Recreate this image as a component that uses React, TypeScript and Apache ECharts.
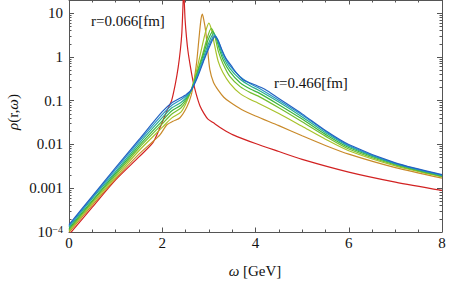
import React, { useEffect, useRef } from "react";
import * as echarts from "echarts";

const FONT = "Liberation Serif";
const FS = 15;

// r values of the curves [fm]
const rValues = ["0.066", "0.123", "0.180", "0.237", "0.294", "0.351", "0.409", "0.466"];
const colors = ["#d22222", "#c98a2a", "#a8c22a", "#72be30", "#3db53e", "#2aae8e", "#2a94c8", "#2262c2"];

// r = 0.066 fm
const omega0 = [0, 0.5, 1, 1.5, 1.8, 1.95, 2.05, 2.13, 2.2, 2.28, 2.34, 2.39, 2.42, 2.44, 2.46, 2.475, 2.49, 2.52, 2.55, 2.6, 2.66, 2.73, 2.81, 2.9, 2.98, 3.09, 3.3, 3.52, 4.0, 4.5, 5.0, 6.0, 7.0, 8.0];
const rho0 = [8.7e-5, 3.7e-4, 1.55e-3, 5.2e-3, 0.0110, 0.0240, 0.0437, 0.069, 0.1, 0.24, 0.56, 1.5, 3.5, 11, 35, 16, 7.1, 2.8, 1.4, 0.63, 0.28, 0.14, 0.076, 0.05, 0.038, 0.0316, 0.0224, 0.0166, 0.0105, 0.0069, 0.00457, 0.00234, 0.00138, 0.00089];

// r = 0.123 fm
const omega1 = [0, 0.5, 1, 1.5, 1.8, 1.95, 2.1, 2.23, 2.38, 2.53, 2.62, 2.68, 2.74, 2.79, 2.83, 2.86, 2.89, 2.93, 2.97, 3.02, 3.1, 3.2, 3.32, 3.45, 3.7, 4.0, 4.5, 5.0, 5.5, 6.0, 7.0, 8.0];
const rho1 = [9.8e-5, 4.1e-4, 1.66e-3, 6.0e-3, 0.0117, 0.0166, 0.0282, 0.0339, 0.0407, 0.0724, 0.132, 0.28, 0.79, 2.8, 7.1, 9.5, 7.1, 4.0, 1.6, 0.52, 0.26, 0.174, 0.12, 0.093, 0.063, 0.0447, 0.0269, 0.0158, 0.0095, 0.006, 0.00295, 0.0017];

// r = 0.180 fm
const omega2 = [0, 0.5, 1, 1.5, 2.0, 2.2, 2.4, 2.5, 2.62, 2.75, 2.85, 2.93, 3.0, 3.06, 3.12, 3.2, 3.3, 3.45, 3.67, 3.9, 4.05, 4.5, 5.0, 5.5, 6.0, 7.0, 8.0];
const rho2 = [1.05e-4, 4.5e-4, 1.82e-3, 7.2e-3, 0.0245, 0.04, 0.055, 0.083, 0.174, 0.56, 1.66, 3.8, 5.9, 4.0, 1.9, 0.79, 0.44, 0.25, 0.145, 0.105, 0.089, 0.051, 0.026, 0.0132, 0.0072, 0.00324, 0.00182];

// r = 0.237 fm
const omega3 = [0, 0.5, 1, 1.5, 2.0, 2.2, 2.4, 2.5, 2.62, 2.75, 2.85, 2.95, 3.05, 3.12, 3.2, 3.3, 3.45, 3.67, 3.9, 4.05, 4.5, 5.0, 5.5, 6.0, 7.0, 8.0];
const rho3 = [1.12e-4, 4.9e-4, 2.0e-3, 8.3e-3, 0.0295, 0.049, 0.068, 0.095, 0.17, 0.46, 1.0, 2.4, 4.5, 3.2, 1.38, 0.71, 0.36, 0.21, 0.151, 0.129, 0.069, 0.033, 0.0155, 0.0079, 0.0034, 0.00186];

// r = 0.294 fm
const omega4 = [0, 0.5, 1, 1.5, 2.0, 2.2, 2.4, 2.5, 2.62, 2.75, 2.88, 2.98, 3.08, 3.15, 3.22, 3.3, 3.45, 3.67, 3.9, 4.05, 4.5, 5.0, 5.5, 6.0, 7.0, 8.0];
const rho4 = [1.2e-4, 5.2e-4, 2.2e-3, 9.3e-3, 0.0347, 0.058, 0.079, 0.105, 0.17, 0.42, 1.12, 2.4, 3.8, 2.8, 1.58, 0.89, 0.46, 0.257, 0.182, 0.155, 0.081, 0.038, 0.017, 0.0085, 0.00355, 0.0019];

// r = 0.351 fm
const omega5 = [0, 0.5, 1, 1.5, 2.0, 2.2, 2.4, 2.5, 2.62, 2.75, 2.88, 2.99, 3.1, 3.17, 3.24, 3.3, 3.45, 3.67, 3.9, 4.05, 4.5, 5.0, 5.5, 6.0, 7.0, 8.0];
const rho5 = [1.29e-4, 5.8e-4, 2.4e-3, 0.0105, 0.041, 0.068, 0.091, 0.115, 0.17, 0.38, 0.95, 2.0, 3.4, 2.6, 1.58, 1.05, 0.55, 0.31, 0.214, 0.178, 0.093, 0.0427, 0.0186, 0.0091, 0.00363, 0.00195];

// r = 0.409 fm
const omega6 = [0, 0.5, 1, 1.5, 2.0, 2.2, 2.4, 2.5, 2.62, 2.75, 2.9, 3.01, 3.12, 3.19, 3.26, 3.33, 3.45, 3.67, 3.9, 4.05, 4.5, 5.0, 5.5, 6.0, 7.0, 8.0];
const rho6 = [1.38e-4, 6.2e-4, 2.7e-3, 0.0117, 0.048, 0.078, 0.105, 0.126, 0.174, 0.355, 0.95, 1.9, 3.1, 2.5, 1.58, 1.05, 0.63, 0.355, 0.24, 0.2, 0.102, 0.047, 0.02, 0.0095, 0.0037, 0.002];

// r = 0.466 fm
const omega7 = [0, 0.5, 1, 1.5, 2.0, 2.2, 2.4, 2.5, 2.62, 2.75, 2.9, 3.02, 3.13, 3.2, 3.28, 3.36, 3.48, 3.6, 3.73, 3.85, 4.0, 4.2, 4.5, 5.0, 5.5, 6.0, 7.0, 8.0];
const rho7 = [1.48e-4, 6.6e-4, 2.95e-3, 0.0129, 0.056, 0.089, 0.117, 0.135, 0.174, 0.33, 0.87, 1.78, 2.9, 2.34, 1.45, 0.95, 0.63, 0.42, 0.3, 0.263, 0.229, 0.182, 0.112, 0.05, 0.0209, 0.01, 0.0038, 0.00204];

const omegas = [omega0, omega1, omega2, omega3, omega4, omega5, omega6, omega7];
const rhos = [rho0, rho1, rho2, rho3, rho4, rho5, rho6, rho7];

const xMin = 0;
const xMax = 8;
const xInterval = 2;
const yMin = 1e-4;
const yMax = 20;
const yMajorTicks = [1e-4, 1e-3, 1e-2, 0.1, 1, 10];
const yTickLabels = ["{n|10}{e|−4}", "0.001", "0.01", "0.1", "1", "10"];
const yMinorMultipliers = [2, 3, 4, 5, 6, 7, 8, 9];

const annotations = [
  { text: "r=0.066[fm]", x: 91, y: 21 },
  { text: "r=0.466[fm]", x: 274, y: 83 },
];

export default function App() {
  const ref = useRef<HTMLDivElement>(null);
  useEffect(() => {
    if (!ref.current) return;
    const chart = echarts.init(ref.current, undefined, { renderer: "svg" });
    const yMinor: number[] = [];
    yMajorTicks.forEach((d) => {
      yMinorMultipliers.forEach((m) => {
        const v = d * m;
        if (v < yMax) yMinor.push(v);
      });
    });
    const axisColor = "#555";
    const labelFmt = (v: number) => {
      for (let i = 0; i < yMajorTicks.length; i++) {
        if (Math.abs(Math.log10(v) - Math.log10(yMajorTicks[i])) < 1e-6) return yTickLabels[i];
      }
      return "";
    };
    const baseY = (position: "left" | "right", major: boolean, labels: boolean) => ({
      type: "log" as const,
      logBase: 10,
      min: yMin,
      max: yMax,
      position,
      splitLine: { show: false },
      axisLine: { show: major, lineStyle: { color: axisColor, width: 1 } },
      axisTick: {
        show: true,
        inside: true,
        length: major ? 5 : 2.5,
        customValues: major ? yMajorTicks : yMinor,
        lineStyle: { color: axisColor, width: 1 },
      },
      axisLabel: labels
        ? {
            show: true,
            customValues: yMajorTicks,
            formatter: labelFmt,
            margin: 6,
            color: "#111",
            fontFamily: FONT,
            fontSize: FS,
            rich: {
              n: { fontFamily: FONT, fontSize: FS, color: "#111" },
              e: { fontFamily: FONT, fontSize: 10, color: "#111", verticalAlign: "top", padding: [0, 0, 6, 0] },
            },
          }
        : { show: false },
    });
    const baseX = (position: "bottom" | "top", labels: boolean) => ({
      type: "value" as const,
      min: xMin,
      max: xMax,
      interval: xInterval,
      position,
      splitLine: { show: false },
      axisLine: { show: true, lineStyle: { color: axisColor, width: 1 } },
      axisTick: { show: true, inside: true, length: 4.5, lineStyle: { color: axisColor, width: 1 } },
      minorTick: { show: true, splitNumber: 4, length: 2.5, lineStyle: { color: axisColor, width: 1 } },
      axisLabel: labels
        ? { show: true, margin: 3, color: "#111", fontFamily: FONT, fontSize: FS }
        : { show: false },
    });

    const series = omegas.map((om, i) => ({
      type: "line" as const,
      name: "r=" + rValues[i] + "[fm]",
      xAxisIndex: 0,
      yAxisIndex: 0,
      data: om.map((w, j) => [w, rhos[i][j]]),
      showSymbol: false,
      symbol: "none",
      smooth: 0.25,
      clip: true,
      lineStyle: { color: colors[i], width: 1.2 },
      z: 2 + i,
    }));

    chart.setOption({
      animation: false,
      backgroundColor: "#fff",
      textStyle: { fontFamily: FONT },
      grid: { left: 69, right: 9, top: 0, bottom: 49, containLabel: false },
      xAxis: [baseX("bottom", true), baseX("top", false)],
      yAxis: [
        baseY("left", true, true),
        baseY("left", false, false),
        baseY("right", true, false),
        baseY("right", false, false),
      ],
      series,
      graphic: [
        ...annotations.map((a) => ({
          type: "text" as const,
          x: a.x,
          y: a.y,
          style: { text: a.text, font: `${FS}px ${FONT}`, fill: "#111", align: "left", verticalAlign: "middle" },
        })),
        {
          type: "text",
          x: 255,
          y: 271,
          style: {
            text: "{i|ω} [GeV]",
            font: `${FS}px ${FONT}`,
            fill: "#111",
            align: "center",
            verticalAlign: "middle",
            rich: { i: { fontFamily: FONT, fontSize: FS, fontStyle: "italic", fill: "#111" } },
          },
        },
        {
          type: "text",
          x: 13,
          y: 112,
          rotation: Math.PI / 2,
          style: {
            text: "{i|ρ}(r,{i|ω})",
            font: `${FS}px ${FONT}`,
            fill: "#111",
            align: "center",
            verticalAlign: "middle",
            rich: { i: { fontFamily: FONT, fontSize: FS, fontStyle: "italic", fill: "#111" } },
          },
        },
      ],
    });
    return () => chart.dispose();
  }, []);
  return (
    <div
      ref={ref}
      style={{ position: "fixed", left: 0, top: 0, width: 451, height: 281, background: "#fff" }}
    />
  );
}
